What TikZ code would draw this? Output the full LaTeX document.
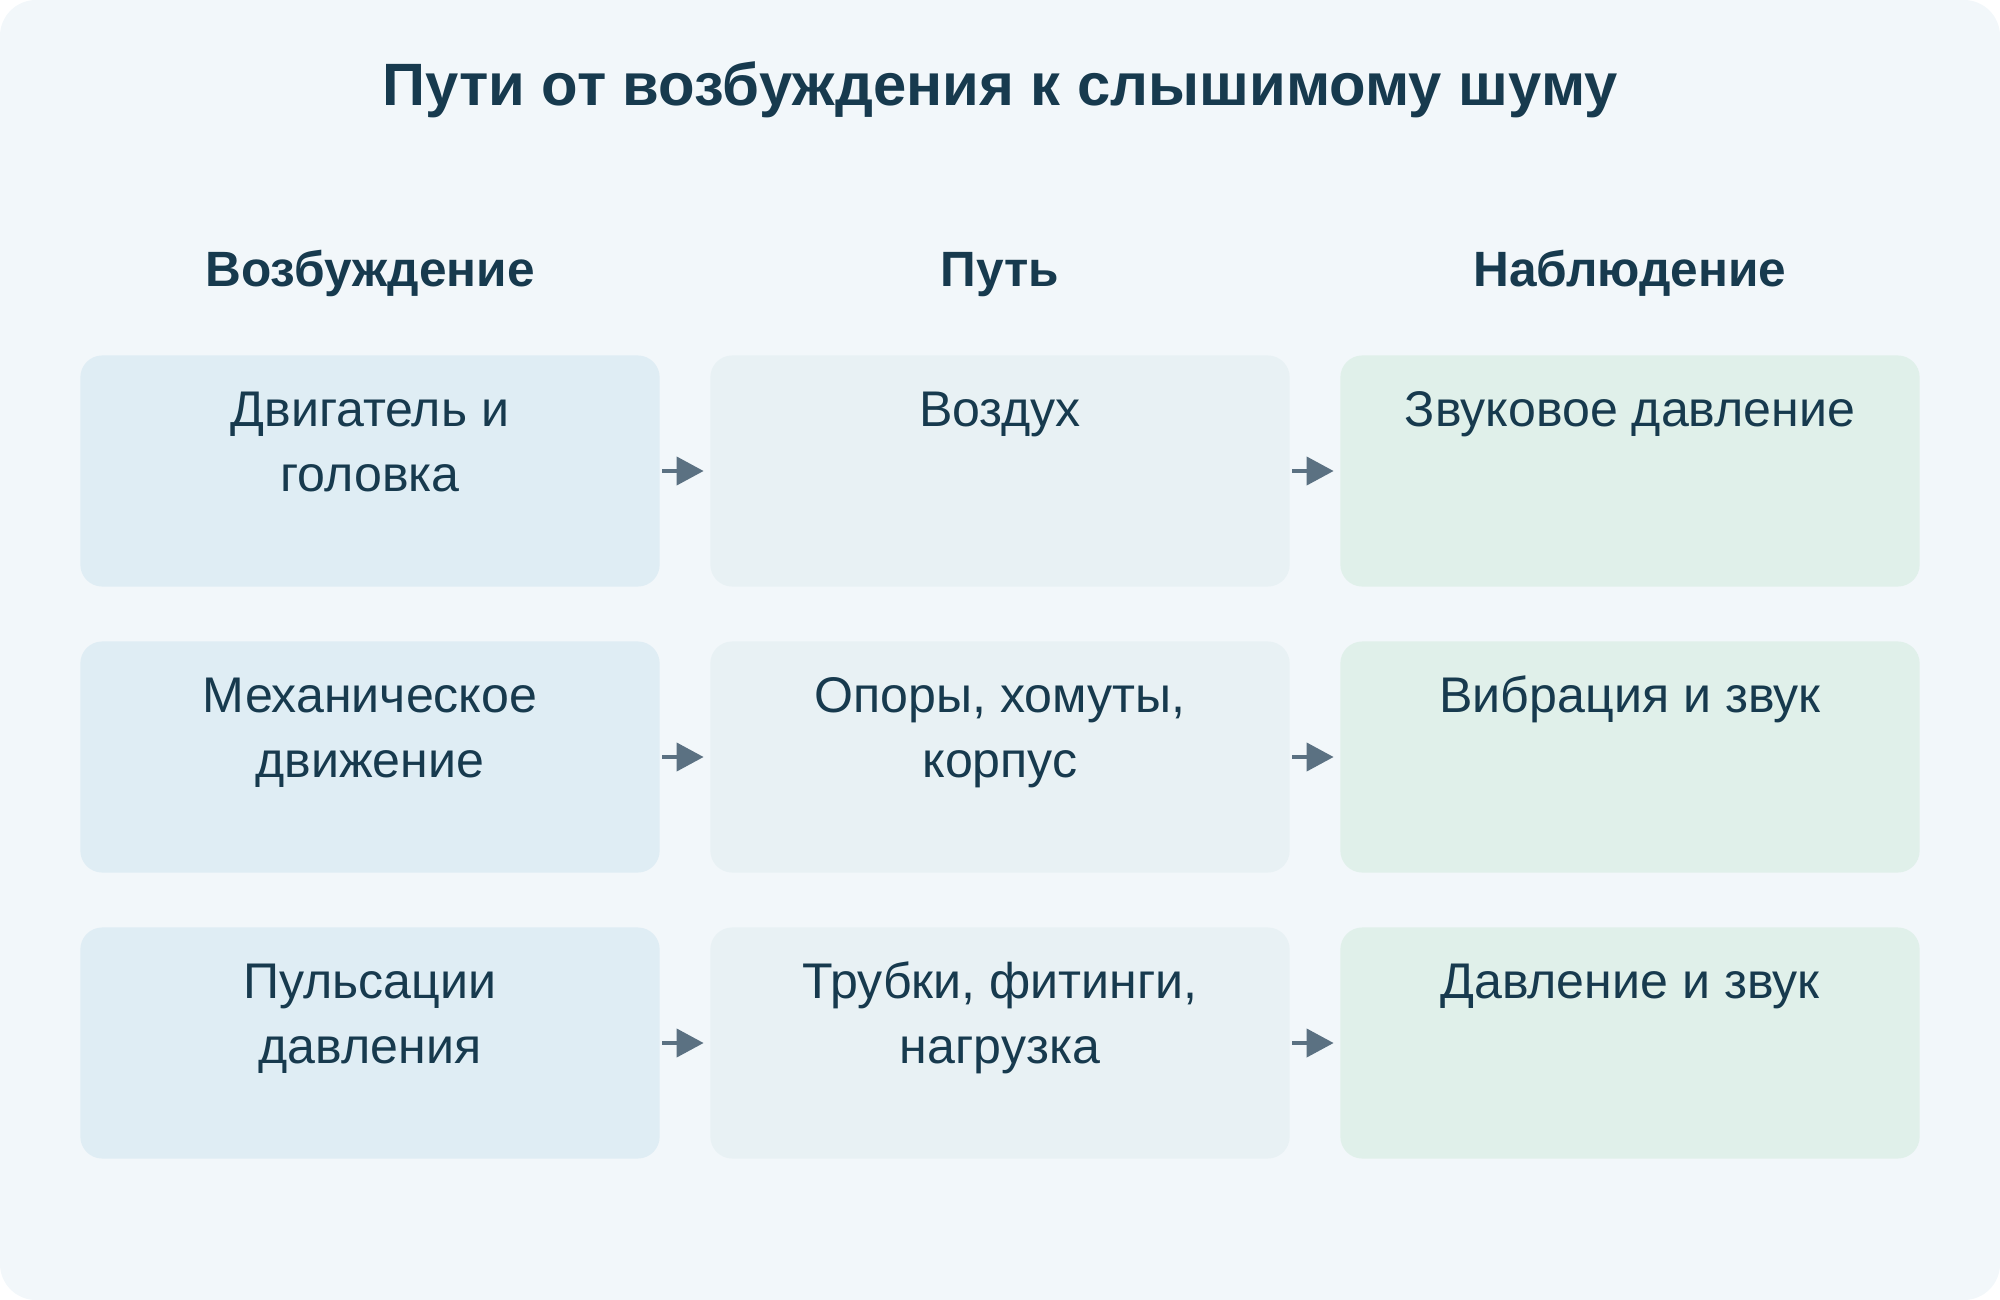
\documentclass[tikz,border=0pt]{standalone}
\usepackage{fontspec}
\setmainfont{Liberation Sans}
\usetikzlibrary{arrows.meta}

\definecolor{inkcol}{HTML}{173A4E}
\definecolor{pagecol}{HTML}{F2F7FA}
\definecolor{srccol}{HTML}{DFEDF4}
\definecolor{pathcol}{HTML}{E8F1F4}
\definecolor{obscol}{HTML}{E0F0EA}
\definecolor{arrcol}{HTML}{5B7182}

\tikzset{
  cell/.style={rounded corners=0.22cm, minimum width=5.79cm, minimum height=2.31cm, inner sep=0pt},
  celltext/.style={anchor=base, text width=5.5cm, align=flush center, inner sep=0pt, text=inkcol,
    font=\fontsize{14.25}{18.3}\selectfont},
  colhead/.style={anchor=base, inner sep=0pt, text=inkcol, font=\fontsize{14.1}{16}\selectfont\bfseries},
  flow/.style={draw=arrcol, line width=0.04cm, -{Triangle[length=0.27cm, width=0.28cm]},
    shorten <=0.02cm, shorten >=0.06cm}
}

\begin{document}
\begin{tikzpicture}[x=0.01cm, y=-0.01cm]
            \useasboundingbox (0, 0) rectangle (2000, 1300);
            \fill[pagecol, rounded corners=0.36cm] (0, 0) rectangle (2000, 1300);

            \node[anchor=base, inner sep=0pt, text=inkcol, font=\fontsize{17}{20}\selectfont\bfseries] (title) at (1000, 106) {Пути от возбуждения к слышимому шуму};

            \node[colhead] (h1) at (370, 287) {Возбуждение};
            \node[colhead] (h2) at (1000, 287) {Путь};
            \node[colhead] (h3) at (1630, 287) {Наблюдение};

            \node[cell, fill=srccol] (v1) at (370, 471) {};
            \node[cell, fill=pathcol] (p1) at (1000, 471) {};
            \node[cell, fill=obscol] (n1) at (1630, 471) {};
            \node[cell, fill=srccol] (v2) at (370, 757) {};
            \node[cell, fill=pathcol] (p2) at (1000, 757) {};
            \node[cell, fill=obscol] (n2) at (1630, 757) {};
            \node[cell, fill=srccol] (v3) at (370, 1043) {};
            \node[cell, fill=pathcol] (p3) at (1000, 1043) {};
            \node[cell, fill=obscol] (n3) at (1630, 1043) {};

            \node[celltext] (v1t) at ([yshift=-0.72cm]v1.north) {Двигатель и\\головка};
            \node[celltext] (p1t) at ([yshift=-0.72cm]p1.north) {Воздух};
            \node[celltext] (n1t) at ([yshift=-0.72cm]n1.north) {Звуковое давление};
            \node[celltext] (v2t) at ([yshift=-0.72cm]v2.north) {Механическое\\движение};
            \node[celltext] (p2t) at ([yshift=-0.72cm]p2.north) {Опоры, хомуты,\\корпус};
            \node[celltext] (n2t) at ([yshift=-0.72cm]n2.north) {Вибрация и звук};
            \node[celltext] (v3t) at ([yshift=-0.72cm]v3.north) {Пульсации\\давления};
            \node[celltext] (p3t) at ([yshift=-0.72cm]p3.north) {Трубки, фитинги,\\нагрузка};
            \node[celltext] (n3t) at ([yshift=-0.72cm]n3.north) {Давление и звук};

            \foreach \r in {1, 2, 3} {
                \draw[flow] (v\r.east) -- (p\r.west);
                \draw[flow] (p\r.east) -- (n\r.west);
            }
\end{tikzpicture}
\end{document}
